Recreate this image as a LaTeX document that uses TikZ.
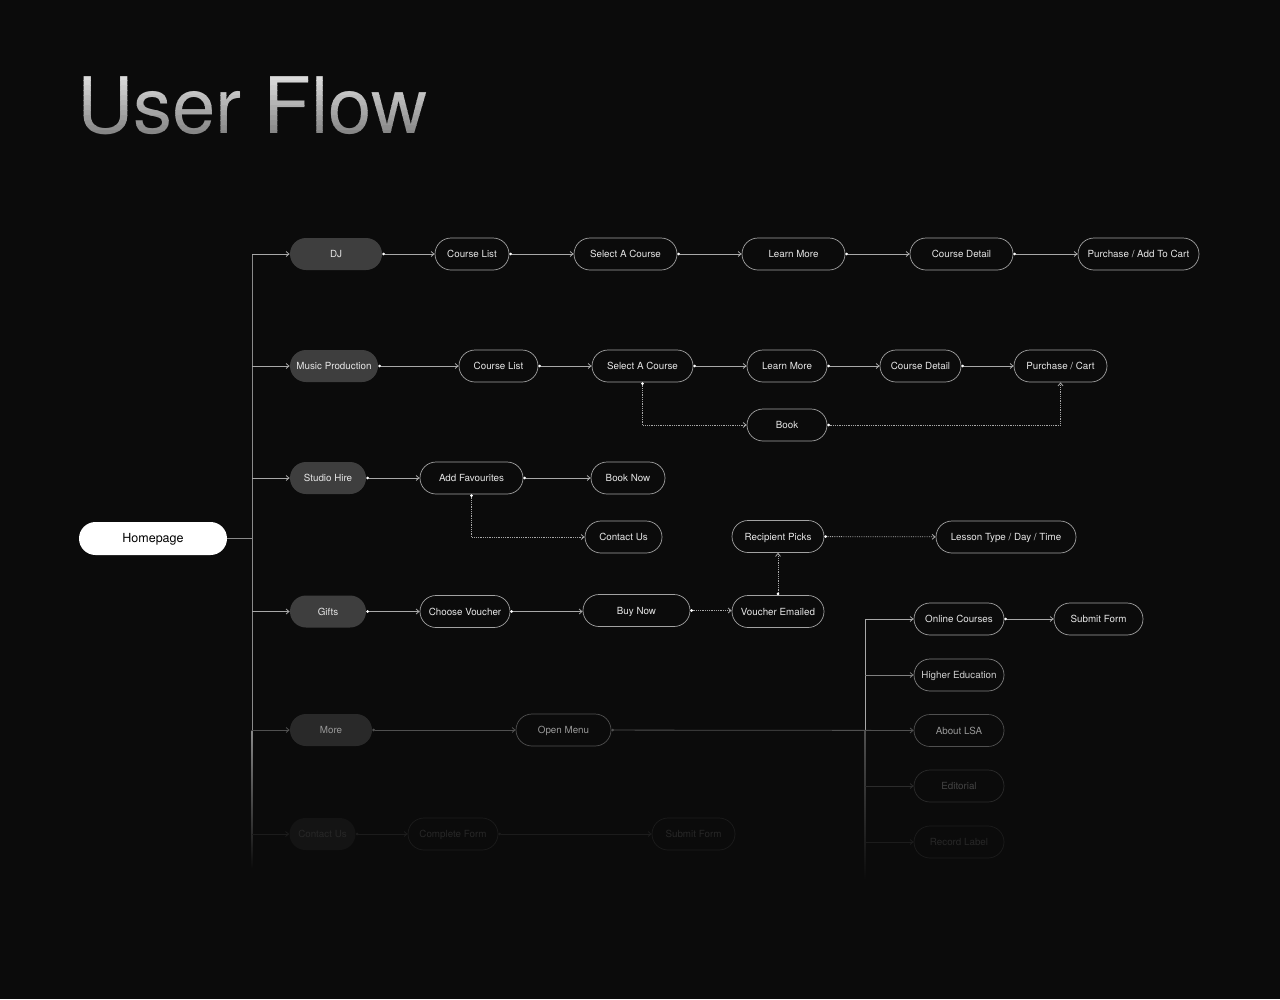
\documentclass[tikz,border=0pt]{standalone}
\usepackage{fontspec}
\setmainfont{TeX Gyre Heros}
\usepackage{tikz}
\usetikzlibrary{arrows.meta, positioning, calc}
\definecolor{bgblack}{HTML}{0B0B0B}
\definecolor{edgegray}{HTML}{A2A2A2}
\definecolor{linegray}{HTML}{A8A8A8}
\definecolor{trunkgray}{HTML}{8A8A8A}
\definecolor{labelwhite}{HTML}{E6E6E6}
\definecolor{catgray}{HTML}{3E3E3E}
\definecolor{titletop}{HTML}{E4E4E4}
\definecolor{titlebottom}{HTML}{7E7E7E}
\definecolor{edgeA}{HTML}{808080}
\definecolor{textA}{HTML}{CFCFCF}
\definecolor{edgeB}{HTML}{505050}
\definecolor{textB}{HTML}{989898}
\definecolor{edgeC}{HTML}{2C2C2C}
\definecolor{textC}{HTML}{444444}
\definecolor{edgeD}{HTML}{1C1C1C}
\definecolor{textD}{HTML}{272727}
\newcommand{\labelfont}{\fontsize{9.8}{11}\selectfont}
\newcommand{\titlefont}{\fontsize{78}{80}\selectfont}

\begin{document}
\begin{tikzpicture}[x=1pt, y=-1pt,
    pill/.style={draw=edgegray, line width=0.7pt, fill=bgblack, rounded corners=16pt,
        minimum height=32pt, inner sep=0pt, text height=0.72em, text depth=0pt,
        text=labelwhite, font=\labelfont},
    cat/.style={pill, draw=none, fill=catgray},
    dimA/.style={draw=edgeA, text=textA},
    dimB/.style={draw=edgeB, text=textB},
    dimC/.style={draw=edgeC, text=textC},
    dimD/.style={draw=edgeD, text=textD},
    flow/.style={draw=linegray, line width=0.8pt,
        {Circle[length=2.6pt,color=white]}-{Straight Barb[length=3pt,width=5pt]}},
    faded/.style={draw=#1, {Circle[length=2.6pt,color=#1]}-{Straight Barb[length=3pt,width=5pt]}},
    dotflow/.style={flow, densely dotted},
    branch/.style={draw=linegray, line width=0.8pt, -{Straight Barb[length=3pt,width=5pt]}}
]
    % Background
    \fill[bgblack] (0,0) rectangle (1280,999);
    \useasboundingbox (0,0) rectangle (1280,999);

    % ===== Title (banded gradient) =====
    \foreach \i in {0,...,13} {
        \pgfmathsetmacro{\p}{100-\i*100/13}
        \begin{scope}
            \clip (60,70+\i*5) rectangle (450,75.6+\i*5);
            \node[anchor=base west, inner sep=0pt, text=titletop!\p!titlebottom,
                font=\titlefont] (title\i) at (77,133) {User Flow};
        \end{scope}
    }

    % ===== Homepage and trunk =====
    \node[pill, draw=none, fill=white, text=black, minimum width=148pt, minimum height=33pt,
        rounded corners=16.5pt, font=\fontsize{12.5}{14}\selectfont] (home) at (153,538.5) {Homepage};
    \coordinate (tr) at (252,0);
    \coordinate (tr2) at (865,0);

    % Categories
    \node[cat, minimum width=92pt] (dj) at (336,254) {DJ};
    \node[cat, minimum width=88pt] (mp) at (334,366) {Music Production};
    \node[cat, minimum width=76pt] (sh) at (328,478) {Studio Hire};
    \node[cat, minimum width=76pt] (gf) at (328,611.5) {Gifts};
    \node[cat, fill=black!84, text=textB, minimum width=82pt] (more) at (331,730) {More};
    \node[cat, fill=black!92, text=textD, minimum width=66pt] (cu) at (322.5,834) {Contact Us};

    % ===== DJ =====
    \node[pill, minimum width=74pt] (dj1) at (472,254) {Course List};
    \node[pill, minimum width=103pt] (dj2) at (625.5,254) {Select A Course};
    \node[pill, minimum width=103pt] (dj3) at (793.5,254) {Learn More};
    \node[pill, minimum width=103pt] (dj4) at (961.5,254) {Course Detail};
    \node[pill, minimum width=121pt] (dj5) at (1138.5,254) {Purchase / Add To Cart};

    % ===== Music Production =====
    \node[pill, minimum width=79pt] (mp1) at (498.5,366) {Course List};
    \node[pill, minimum width=101pt] (mp2) at (642.5,366) {Select A Course};
    \node[pill, minimum width=80pt] (mp3) at (787,366) {Learn More};
    \node[pill, minimum width=81pt] (mp4) at (920.5,366) {Course Detail};
    \node[pill, minimum width=93pt] (mp5) at (1060.5,366) {Purchase / Cart};
    \node[pill, minimum width=80pt] (mpb) at (787,425) {Book};

    % ===== Studio Hire =====
    \node[pill, minimum width=103pt] (sh1) at (471.5,478) {Add Favourites};
    \node[pill, minimum width=74pt] (sh2) at (628,478) {Book Now};
    \node[pill, minimum width=77pt] (sh3) at (623.5,537) {Contact Us};

    % ===== Gifts =====
    \node[pill, minimum width=90pt] (gf1) at (465,611.5) {Choose Voucher};
    \node[pill, minimum width=107pt] (gf2) at (636.5,610.5) {Buy Now};
    \node[pill, minimum width=92pt] (gf3) at (778,611.5) {Voucher Emailed};
    \node[pill, minimum width=92pt] (gf4) at (778,536.5) {Recipient Picks};
    \node[pill, minimum width=140pt] (gf5) at (1006,537) {Lesson Type / Day / Time};

    % ===== More =====
    \node[pill, dimB, minimum width=95pt] (mo1) at (563.5,730) {Open Menu};
    \node[pill, minimum width=90pt] (oc) at (959,619) {Online Courses};
    \node[pill, minimum width=89pt] (os) at (1098.5,619) {Submit Form};
    \node[pill, dimA, minimum width=90pt] (he) at (959,675) {Higher Education};
    \node[pill, dimB, minimum width=90pt] (ab) at (959,730.5) {About LSA};
    \node[pill, dimC, minimum width=90pt] (ed) at (959,786) {Editorial};
    \node[pill, dimD, minimum width=90pt] (rl) at (959,842) {Record Label};

    % ===== Contact Us =====
    \node[pill, dimD, minimum width=90pt] (cu1) at (453,834) {Complete Form};
    \node[pill, dimD, minimum width=83pt] (cu2) at (693.5,834) {Submit Form};

    % Trunk lines
    \draw[trunkgray, line width=0.8pt] (home.east) -- (tr |- home);
    \draw[trunkgray, line width=0.8pt] (tr |- dj) -- (tr |- more);
    \shade[top color=trunkgray, bottom color=bgblack] ($(tr |- more)+(-0.4,0)$) rectangle ($(tr |- cu)+(0.4,34)$);
    \foreach \n in {dj,mp,sh,gf} {
        \draw[branch] (tr |- \n) -- (\n.west);
    }
    \draw[branch, draw=edgeB] (tr |- more) -- (more.west);
    \draw[branch, draw=edgeD] (tr |- cu) -- (cu.west);

    \draw[linegray, line width=0.8pt] (tr2 |- oc) -- (tr2 |- ab);
    \shade[top color=edgeB, bottom color=bgblack] ($(tr2 |- ab)+(-0.4,0)$) rectangle ($(tr2 |- rl)+(0.4,38)$);
    \draw[branch] (tr2 |- oc) -- (oc.west);
    \draw[branch, draw=edgeA] (tr2 |- he) -- (he.west);
    \draw[branch, draw=edgeC] (tr2 |- ed) -- (ed.west);
    \draw[branch, draw=edgeD] (tr2 |- rl) -- (rl.west);

    % Rows
    \draw[flow] (dj) -- (dj1);
    \draw[flow] (dj1) -- (dj2);
    \draw[flow] (dj2) -- (dj3);
    \draw[flow] (dj3) -- (dj4);
    \draw[flow] (dj4) -- (dj5);

    \draw[flow] (mp) -- (mp1);
    \draw[flow] (mp1) -- (mp2);
    \draw[flow] (mp2) -- (mp3);
    \draw[flow] (mp3) -- (mp4);
    \draw[flow] (mp4) -- (mp5);
    \draw[dotflow] (mp2.south) |- (mpb.west);
    \draw[dotflow] (mpb.east) -| (mp5.south);

    \draw[flow] (sh) -- (sh1);
    \draw[flow] (sh1) -- (sh2);
    \draw[dotflow] (sh1.south) |- (sh3.west);

    \draw[flow] (gf.east) -- (gf1.west |- gf.east);
    \draw[flow] (gf1) -- (gf2.west |- gf1.east);
    \draw[dotflow] (gf2.east) -- (gf3.west |- gf2.east);
    \draw[dotflow] (gf3.north) -- (gf4.south);
    \draw[dotflow] (gf4) -- (gf5);

    \draw[flow, faded=edgeB] (more) -- (mo1);
    \draw[flow, faded=edgeB] (mo1) -- (ab);
    \draw[flow] (oc) -- (os);

    \draw[flow, faded=edgeD] (cu) -- (cu1);
    \draw[flow, faded=edgeD] (cu1) -- (cu2);
\end{tikzpicture}
\end{document}
